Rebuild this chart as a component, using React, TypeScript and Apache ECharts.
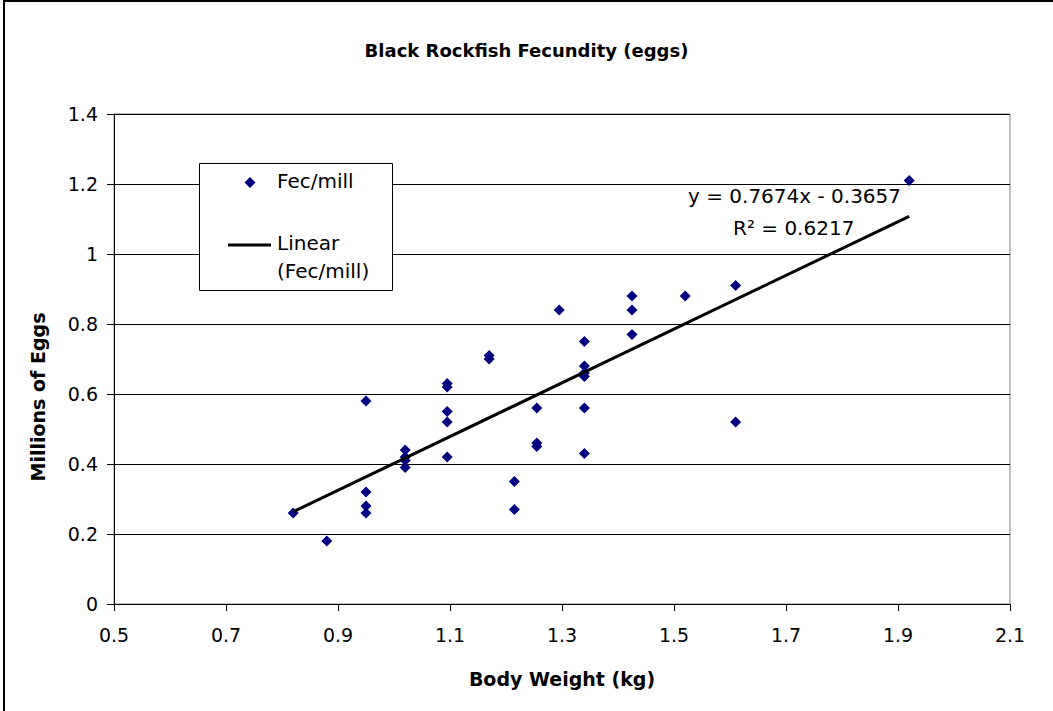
import React, { useEffect, useRef } from "react";
import * as echarts from "echarts";

const chartTitle = "Black Rockfish Fecundity (eggs)";
const xAxisTitle = "Body Weight (kg)";
const yAxisTitle = "Millions of Eggs";
const seriesName = "Fec/mill";
const trendNameLines = ["Linear", "(Fec/mill)"];

const bodyWeight = [
  0.82, 0.88, 0.95, 0.95, 0.95, 0.95, 1.02, 1.02, 1.02, 1.02, 1.095, 1.095,
  1.095, 1.095, 1.095, 1.17, 1.17, 1.215, 1.215, 1.255, 1.255, 1.255, 1.295,
  1.34, 1.34, 1.34, 1.34, 1.34, 1.34, 1.425, 1.425, 1.425, 1.52, 1.61, 1.61,
  1.92,
];
const millionsOfEggs = [
  0.26, 0.18, 0.58, 0.32, 0.28, 0.26, 0.44, 0.42, 0.41, 0.39, 0.63, 0.62,
  0.55, 0.52, 0.42, 0.71, 0.7, 0.35, 0.27, 0.56, 0.46, 0.45, 0.84, 0.75, 0.68,
  0.66, 0.65, 0.56, 0.43, 0.88, 0.84, 0.77, 0.88, 0.91, 0.52, 1.21,
];

const trendSlope = 0.7674;
const trendIntercept = -0.3657;
const trendR2 = 0.6217;

const xTicks = [0.5, 0.7, 0.9, 1.1, 1.3, 1.5, 1.7, 1.9, 2.1];
const yTicks = [0, 0.2, 0.4, 0.6, 0.8, 1, 1.2, 1.4];

const FONT = "DejaVu Sans";

export default function App() {
  const ref = useRef<HTMLDivElement>(null);
  useEffect(() => {
    if (!ref.current) return;
    const chart = echarts.init(ref.current, null, { renderer: "svg" });
    const xMin = Math.min(...bodyWeight);
    const xMax = Math.max(...bodyWeight);
    const trendData = [
      [xMin, trendSlope * xMin + trendIntercept],
      [xMax, trendSlope * xMax + trendIntercept],
    ];
    const eqText = `y = ${trendSlope}x - ${Math.abs(trendIntercept)}`;
    const r2Text = `R² = ${trendR2}`;
    const option: any = {
      animation: false,
      backgroundColor: "#fff",
      textStyle: { fontFamily: FONT },
      title: {
        text: chartTitle,
        left: "center",
        top: 36,
        textStyle: { fontFamily: FONT, fontSize: 18, fontWeight: "bold", color: "#000" },
      },
      grid: {
        left: 114,
        right: 43,
        top: 114,
        bottom: 107,
        show: true,
        borderColor: "#808080",
        borderWidth: 1,
        backgroundColor: "transparent",
      },
      xAxis: {
        type: "value",
        min: 0.5,
        max: 2.1,
        name: xAxisTitle,
        nameLocation: "middle",
        nameGap: 65,
        nameTextStyle: { fontFamily: FONT, fontSize: 19, fontWeight: "bold", color: "#000" },
        axisLine: { show: true, onZero: false, lineStyle: { color: "#000", width: 1 } },
        axisTick: { show: true, length: 7, customValues: xTicks, lineStyle: { color: "#000" } },
        axisLabel: {
          customValues: xTicks,
          margin: 21,
          fontSize: 19,
          fontFamily: FONT,
          color: "#000",
          formatter: (v: number) => String(v),
        },
        splitLine: { show: false },
      },
      yAxis: {
        type: "value",
        min: 0,
        max: 1.4,
        interval: 0.2,
        axisLine: { show: true, onZero: false, lineStyle: { color: "#000", width: 1 } },
        axisTick: { show: true, length: 7, customValues: yTicks, lineStyle: { color: "#000" } },
        axisLabel: {
          customValues: yTicks,
          margin: 16,
          fontSize: 19,
          fontFamily: FONT,
          color: "#000",
          formatter: (v: number) => String(v),
        },
        splitLine: { show: true, lineStyle: { color: "#000", width: 1 } },
      },
      series: [
        {
          name: seriesName,
          type: "scatter",
          symbol: "diamond",
          symbolSize: 11,
          itemStyle: { color: "#000080", opacity: 1 },
          data: bodyWeight.map((x, i) => [x, millionsOfEggs[i]]),
          z: 3,
        },
        {
          name: trendNameLines.join(" "),
          type: "line",
          data: trendData,
          symbol: "none",
          lineStyle: { color: "#000", width: 3 },
          z: 4,
        },
      ],
      graphic: [
        {
          type: "rect",
          shape: { x: 4, y: 1, width: 1200, height: 900 },
          style: { fill: "none", stroke: "#000", lineWidth: 2 },
          silent: true,
        },
        {
          type: "text",
          x: 38,
          y: 397,
          rotation: Math.PI / 2,
          style: {
            text: yAxisTitle,
            fontFamily: FONT,
            fontSize: 19,
            fontWeight: "bold",
            fill: "#000",
            align: "center",
            verticalAlign: "middle",
          },
        },
        {
          type: "rect",
          shape: { x: 199.5, y: 163.5, width: 193, height: 127 },
          style: { fill: "#fff", stroke: "#000", lineWidth: 1 },
          z: 10,
        },
        {
          type: "polygon",
          shape: { points: [[250, 177], [255.5, 182.5], [250, 188], [244.5, 182.5]] },
          style: { fill: "#000080" },
          z: 11,
        },
        {
          type: "line",
          shape: { x1: 228, y1: 245, x2: 271, y2: 245 },
          style: { stroke: "#000", lineWidth: 3 },
          z: 11,
        },
        {
          type: "text",
          x: 277,
          y: 181,
          z: 11,
          style: { text: seriesName, fontFamily: FONT, fontSize: 20, fill: "#000", verticalAlign: "middle" },
        },
        {
          type: "text",
          x: 277,
          y: 243,
          z: 11,
          style: { text: trendNameLines[0], fontFamily: FONT, fontSize: 20, fill: "#000", verticalAlign: "middle" },
        },
        {
          type: "text",
          x: 277,
          y: 271,
          z: 11,
          style: { text: trendNameLines[1], fontFamily: FONT, fontSize: 20, fill: "#000", verticalAlign: "middle" },
        },
        {
          type: "text",
          x: 688,
          y: 196,
          z: 11,
          style: { text: eqText, fontFamily: FONT, fontSize: 20, fill: "#000", verticalAlign: "middle" },
        },
        {
          type: "text",
          x: 733,
          y: 228,
          z: 11,
          style: { text: r2Text, fontFamily: FONT, fontSize: 20, fill: "#000", verticalAlign: "middle" },
        },
      ],
    };
    chart.setOption(option);
    return () => chart.dispose();
  }, []);
  return (
    <div
      ref={ref}
      style={{ position: "fixed", left: 0, top: 0, width: 1053, height: 711 }}
    />
  );
}
